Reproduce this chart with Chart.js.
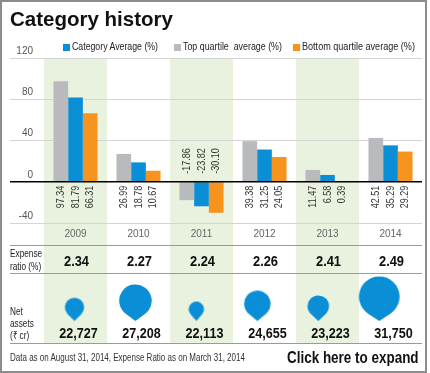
<!DOCTYPE html>
<html>
<head>
<meta charset="utf-8">
<script src="https://cdn.jsdelivr.net/npm/chart.js@4.4.1/dist/chart.umd.min.js"></script>
<style>
  body { margin: 0; background: #fff; }
  #wrap { position: relative; width: 430px; height: 373px; overflow: hidden; }
  #frame { position: absolute; left: 0; top: 0; width: 427px; height: 373px; box-sizing: border-box; border: 2px solid #8c8c8c; pointer-events: none; }
  canvas { position: absolute; left: 0; top: 0; }
  .txt { position: absolute; white-space: pre; transform-origin: left top; font-family: "Liberation Sans", Arial, sans-serif; line-height: 1; }
  #title { left: 10px; top: 9px; font-weight: bold; font-size: 20.5px; color: #111; }
  .leg { top: 41px; font-size: 11px; color: #222; }
  .box { position: absolute; top: 44px; width: 7px; height: 7px; }
  #note { left: 10px; top: 352px; font-size: 11px; color: #333; }
  #expand { left: 287px; top: 350px; font-size: 16px; font-weight: bold; color: #111; }
</style>
</head>
<body>
<div id="wrap">
  <canvas id="main" width="430" height="373"></canvas>
  <canvas id="assets" width="430" height="373"></canvas>
  <div id="title" class="txt">Category history</div>
  <div id="legend"></div>
  <div id="note" class="txt">Data as on August 31, 2014, Expense Ratio as on March 31, 2014</div>
  <div id="expand" class="txt">Click here to expand</div>
  <div id="frame"></div>
</div>
<script>
const years = ['2009', '2010', '2011', '2012', '2013', '2014'];
const topQuartile = [97.34, 26.99, -17.86, 39.38, 11.47, 42.51];
const categoryAvg = [81.79, 18.78, -23.82, 31.25, 6.58, 35.29];
const bottomQuartile = [66.31, 10.67, -30.10, 24.05, 0.39, 29.29];
const expenseRatio = [2.34, 2.27, 2.24, 2.26, 2.41, 2.49];
const netAssets = [22727, 27208, 22113, 24655, 23223, 31750];
const yTicks = [-40, 0, 40, 80, 120];

const SANS = '"Liberation Sans", Arial, sans-serif';
const GRAY = '#b9babd', BLUE = '#0a8fd6', ORANGE = '#f7941d', BAND = '#e9f2de';

// the original uses a condensed face; squeeze regular text to the same width
function squeeze(el, width) {
    el.style.transform = `scaleX(${width / el.scrollWidth})`;
}

// legend (order differs from the bar order)
const legendItems = [
    { label: 'Category Average (%)', color: BLUE, box: 63, text: 72, width: 86 },
    { label: 'Top quartile  average (%)', color: GRAY, box: 174, text: 183, width: 99 },
    { label: 'Bottom quartile average (%)', color: ORANGE, box: 293, text: 302, width: 113 }
];
const legend = document.getElementById('legend');
legendItems.forEach(it => {
    const b = document.createElement('div');
    b.className = 'box';
    b.style.left = it.box + 'px';
    b.style.background = it.color;
    legend.appendChild(b);
    const t = document.createElement('div');
    t.className = 'txt leg';
    t.style.left = it.text + 'px';
    t.textContent = it.label;
    legend.appendChild(t);
    squeeze(t, it.width);
});
squeeze(document.getElementById('note'), 235);
squeeze(document.getElementById('expand'), 132);

function narrowText(ctx, text, x, y, scale) {
    ctx.save();
    ctx.translate(x, y);
    ctx.scale(scale, 1);
    ctx.fillText(text, 0, 0);
    ctx.restore();
}

// rows under the bars
const ROW_YEAR_LINE = 245, ROW_EXP_LINE = 273, ROW_END = 343;

const tablePlugin = {
    id: 'tableDecor',
    beforeDraw(chart) {
        const { ctx, chartArea, scales: { x } } = chart;
        const half = (x.getPixelForValue(1) - x.getPixelForValue(0)) / 2;
        ctx.save();
        ctx.fillStyle = BAND;
        years.forEach((yr, i) => {
            if (i % 2 === 0) {
                const cx = x.getPixelForValue(i);
                ctx.fillRect(cx - half, chartArea.top, half * 2, ROW_END - chartArea.top);
            }
        });
        ctx.restore();
    },
    afterDatasetsDraw(chart) {
        const { ctx, chartArea, scales: { x, y } } = chart;
        ctx.save();

        // zero line on top of bars
        const y0 = y.getPixelForValue(0);
        ctx.strokeStyle = '#000';
        ctx.lineWidth = 1.6;
        ctx.beginPath();
        ctx.moveTo(10, y0);
        ctx.lineTo(chartArea.right, y0);
        ctx.stroke();

        // row separators
        ctx.strokeStyle = '#9a9a9a';
        ctx.lineWidth = 1;
        [ROW_YEAR_LINE, ROW_EXP_LINE, ROW_END].forEach(ly => {
            ctx.beginPath();
            ctx.moveTo(10, ly + 0.5);
            ctx.lineTo(chartArea.right, ly + 0.5);
            ctx.stroke();
        });

        // rotated value labels
        ctx.fillStyle = '#333';
        ctx.font = '11px ' + SANS;
        ctx.textBaseline = 'middle';
        chart.data.datasets.forEach((ds, di) => {
            const meta = chart.getDatasetMeta(di);
            meta.data.forEach((bar, i) => {
                const v = ds.data[i];
                ctx.save();
                ctx.translate(bar.x, v >= 0 ? y0 + 4 : y0 - 8);
                ctx.rotate(-Math.PI / 2);
                ctx.scale(0.82, 1);
                ctx.textAlign = v >= 0 ? 'right' : 'left';
                ctx.fillText(v.toFixed(2), 0, 0);
                ctx.restore();
            });
        });

        // row captions
        ctx.fillStyle = '#222';
        ctx.font = '11px ' + SANS;
        ctx.textAlign = 'left';
        narrowText(ctx, 'Expense', 10, 254, 0.75);
        narrowText(ctx, 'ratio (%)', 10, 267, 0.75);
        narrowText(ctx, 'Net', 10, 312, 0.75);
        narrowText(ctx, 'assets', 10, 324, 0.75);
        narrowText(ctx, '(\u20B9 cr)', 10, 336, 0.75);

        // expense ratio and net assets values
        ctx.fillStyle = '#111';
        ctx.textAlign = 'center';
        years.forEach((yr, i) => {
            const cx = x.getPixelForValue(i);
            ctx.font = 'bold 14px ' + SANS;
            narrowText(ctx, expenseRatio[i].toFixed(2), cx + 1, 262.5, 0.92);
            ctx.font = 'bold 15px ' + SANS;
            narrowText(ctx, netAssets[i].toLocaleString('en-US'), cx + 3, 334, 0.84);
        });
        ctx.restore();
    }
};

new Chart(document.getElementById('main'), {
    type: 'bar',
    data: {
        labels: years,
        datasets: [
            { label: 'Top quartile  average (%)', data: topQuartile, backgroundColor: GRAY },
            { label: 'Category Average (%)', data: categoryAvg, backgroundColor: BLUE },
            { label: 'Bottom quartile average (%)', data: bottomQuartile, backgroundColor: ORANGE }
        ]
    },
    options: {
        responsive: false,
        animation: false,
        devicePixelRatio: 1,
        layout: { padding: { left: 10, right: 8, top: 58, bottom: 128 } },
        datasets: { bar: { categoryPercentage: 0.7, barPercentage: 1, borderWidth: 0 } },
        plugins: { legend: { display: false }, tooltip: { enabled: false } },
        scales: {
            x: {
                grid: { display: false, drawTicks: false },
                border: { display: false },
                ticks: { color: '#666', font: { family: SANS, size: 10 }, padding: 5 },
                afterFit: s => { s.height = 22; }
            },
            y: {
                min: -40,
                max: 120,
                afterBuildTicks: s => { s.ticks = yTicks.map(v => ({ value: v })); },
                grid: { color: '#d4d4d4', lineWidth: 1, drawTicks: true, tickLength: 34 },
                border: { display: false },
                ticks: { color: '#555', font: { family: SANS, size: 10 }, padding: -23, labelOffset: -7 },
                afterFit: s => { s.width = 34; }
            }
        }
    },
    plugins: [tablePlugin]
});

// teardrop markers for net assets, size grows with the value
const lo = 21800, hi = 31750;
const markerRadius = v => 5 + 15.3 * Math.sqrt((v - lo) / (hi - lo));
function teardrop(r) {
    const tip = 4;
    const w = Math.ceil(2 * r + 4);
    const h = Math.ceil(2 * (2 * r + tip + 2));
    const c = document.createElement('canvas');
    c.width = w; c.height = h;
    const g = c.getContext('2d');
    const cx = w / 2, tipY = h / 2, cy = tipY - tip - r;
    const a = Math.acos(r / (r + tip));
    g.fillStyle = BLUE;
    g.beginPath();
    g.arc(cx, cy, r, Math.PI / 2 + a, Math.PI / 2 - a + Math.PI * 2);
    g.lineTo(cx, tipY);
    g.closePath();
    g.fill();
    return c;
}

new Chart(document.getElementById('assets'), {
    type: 'bubble',
    data: {
        labels: years,
        datasets: [{
            label: 'Net assets',
            data: years.map((yr, i) => ({ x: yr, y: 0, r: markerRadius(netAssets[i]) })),
            pointStyle: netAssets.map(v => teardrop(markerRadius(v))),
            backgroundColor: BLUE,
            borderWidth: 0,
            clip: false
        }]
    },
    options: {
        responsive: false,
        animation: false,
        devicePixelRatio: 1,
        events: [],
        layout: { padding: { left: 44, right: 8, top: 262, bottom: 52 } },
        plugins: { legend: { display: false }, tooltip: { enabled: false } },
        scales: {
            x: { type: 'category', labels: years, offset: true, display: false },
            y: { min: 0, max: 1, display: false }
        }
    }
});
</script>
</body>
</html>
